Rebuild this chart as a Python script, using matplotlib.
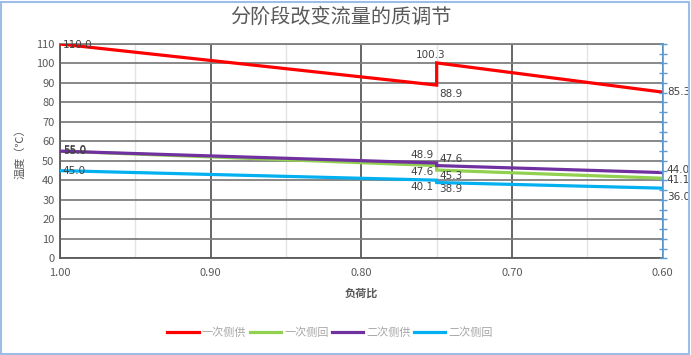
import matplotlib
matplotlib.use("Agg")
import matplotlib.pyplot as plt
from matplotlib.patches import Rectangle
from matplotlib.ticker import MultipleLocator, FormatStrFormatter

plt.rcParams['font.family'] = ['Noto Sans CJK SC', 'DejaVu Sans']

load_ratio = [1.00, 0.75, 0.75, 0.60]
series_names = ["一次侧供", "一次侧回", "二次侧供", "二次侧回"]
primary_supply = [110.0, 88.9, 100.3, 85.3]
primary_return = [55.0, 47.6, 45.3, 41.1]
secondary_supply = [55.0, 48.9, 47.6, 44.0]
secondary_return = [45.0, 40.1, 38.9, 36.0]
x_ticks = [1.00, 0.90, 0.80, 0.70, 0.60]
title = "分阶段改变流量的质调节"
x_label = "负荷比"
y_label = "温度（℃）"

series = [primary_supply, primary_return, secondary_supply, secondary_return]
colors = ["#FF0000", "#92D050", "#7030A0", "#00B0F0"]
zorders = [3, 2.5, 3, 3]
# label offsets (points) for each point index: (dx, dy, ha, va)
label_styles = [
    [(2, -1, 'left', 'center'), (2, -3, 'left', 'top'), (-4, 2, 'center', 'bottom'), (3, 0, 'left', 'center')],
    [(2, 0, 'left', 'center'), (-2, -1, 'right', 'top'), (2, -1, 'left', 'top'), (3, -1.5, 'left', 'center')],
    [(2, 1, 'left', 'center'), (-2, 2, 'right', 'bottom'), (2, 1, 'left', 'bottom'), (3, 2, 'left', 'center')],
    [(2, 0, 'left', 'center'), (-2, -1, 'right', 'top'), (2, -1, 'left', 'top'), (3, -3, 'left', 'top')],
]

fig = plt.figure(figsize=(6.91, 3.55), dpi=100)
ax = fig.add_axes([0.0868, 0.2724, 0.959 - 0.0868, 0.876 - 0.2724])

for name, vals, c, z, styles in zip(series_names, series, colors, zorders, label_styles):
    ax.plot(load_ratio, vals, color=c, lw=2.3, label=name, solid_joinstyle='miter', zorder=z)
    for xv, yv, (dx, dy, ha, va) in zip(load_ratio, vals, styles):
        ax.annotate(f"{yv:.1f}", (xv, yv), xytext=(dx, dy), textcoords='offset points',
                    ha=ha, va=va, fontsize=7.5, color='#404040', zorder=4,
                    family=['DejaVu Sans'])

ax.set_xlim(1.00, 0.60)
ax.set_ylim(0, 110)
ax.set_xticks(x_ticks)
ax.xaxis.set_major_formatter(FormatStrFormatter('%.2f'))
ax.xaxis.set_minor_locator(MultipleLocator(0.05))
ax.yaxis.set_major_locator(MultipleLocator(10))
ax.grid(which='major', axis='y', color='#7F7F7F', lw=1.3, zorder=1)
ax.grid(which='major', axis='x', color='#595959', lw=1.3, zorder=1)
ax.grid(which='minor', axis='x', color='#E3E3E3', lw=1.0, zorder=0)
ax.tick_params(axis='both', which='both', length=0, labelsize=8, labelcolor='#595959')
ax.tick_params(axis='x', pad=7)
ax.tick_params(axis='y', pad=4)
ax.spines['top'].set_color('#7F7F7F')
ax.spines['top'].set_linewidth(1.3)
ax.spines['left'].set_color('#595959')
ax.spines['left'].set_linewidth(1.3)
ax.spines['bottom'].set_color('#595959')
ax.spines['bottom'].set_linewidth(1.3)
ax.spines['right'].set_visible(False)

ax2 = ax.twinx()
ax2.set_ylim(0, 110)
ax2.yaxis.set_major_locator(MultipleLocator(5))
ax2.tick_params(axis='y', direction='inout', length=6, width=1.0, color='#5B9BD5', labelright=False)
for s in ['left', 'top', 'bottom']:
    ax2.spines[s].set_visible(False)
ax2.spines['right'].set_color('#5B9BD5')
ax2.spines['right'].set_linewidth(1.2)

ax.set_xlabel(x_label, fontsize=8, color='#595959', fontweight='bold', labelpad=6)
ax.set_ylabel(y_label, fontsize=8, color='#595959', labelpad=8)
fig.text(0.493, 0.95, title, ha='center', va='center', fontsize=14.5, color='#595959')

leg = fig.legend(loc='center', bbox_to_anchor=(0.478, 0.062), ncol=4, frameon=False,
                 fontsize=8, handlelength=2.8, columnspacing=0.3, handletextpad=0.3)
for t in leg.get_texts():
    t.set_color('#A6A6A6')

fig.patches.append(Rectangle((0.002, 0.004), 0.995, 0.99, transform=fig.transFigure,
                             fill=False, edgecolor='#9DBCE6', lw=1.5))

fig.savefig("out.png", dpi=100)
